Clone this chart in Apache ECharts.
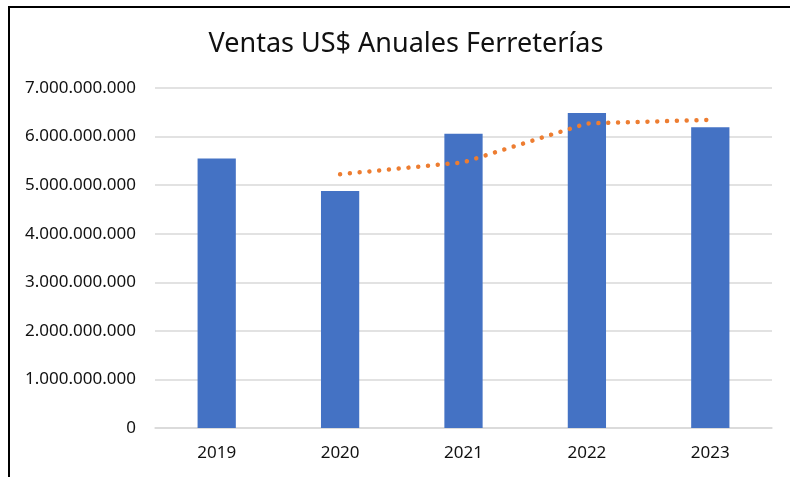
<!DOCTYPE html>
<html>
<head>
<meta charset="utf-8">
<script src="https://cdn.jsdelivr.net/npm/echarts@6/dist/echarts.min.js"></script>
<style>
  html, body { margin: 0; padding: 0; background: #fff; }
  #chart { width: 790px; height: 477px; }
</style>
</head>
<body>
<div id="chart"></div>
<script>
const years = ['2019', '2020', '2021', '2022', '2023']
const ventas = [5550000000, 4880000000, 6060000000, 6485000000, 6190000000]
// media movil de 2 periodos (linea de tendencia punteada)
const tendencia = [null, 5225000000, 5470000000, 6270000000, 6345000000]

const fmt = (v) => String(v).replace(/\B(?=(\d{3})+(?!\d))/g, '.')

const chart = echarts.init(document.getElementById('chart'), null, { renderer: 'canvas' })

const option = {
  animation: false,
  textStyle: { fontFamily: 'Noto Sans' },
  title: {
    text: 'Ventas US$ Anuales Ferreterías',
    left: 401,
    textAlign: 'center',
    top: 26,
    textStyle: { fontFamily: 'Noto Sans', fontSize: 27, fontWeight: 'normal', color: '#111' }
  },
  graphic: [
    {
      type: 'polyline',
      shape: { points: [[9, 477], [9, 7], [790, 7]] },
      style: { stroke: '#000', lineWidth: 2, fill: null }
    }
  ],
  grid: { left: 155, right: 18, top: 88, bottom: 49 },
  xAxis: {
    type: 'category',
    data: years,
    axisTick: { show: false },
    axisLine: { lineStyle: { color: '#d9d9d9', width: 1.5 } },
    axisLabel: { color: '#111', fontSize: 17, margin: 17 }
  },
  yAxis: {
    type: 'value',
    min: 0,
    max: 7000000000,
    interval: 1000000000,
    axisLine: { show: false },
    axisTick: { show: false },
    splitLine: { lineStyle: { color: '#d9d9d9', width: 1.5 } },
    axisLabel: { color: '#111', fontSize: 17, margin: 19, formatter: fmt }
  },
  series: [
    {
      name: 'Ventas',
      type: 'bar',
      data: ventas,
      barWidth: '31%',
      itemStyle: { color: '#4472C4' }
    },
    {
      name: 'Tendencia',
      type: 'line',
      data: tendencia,
      showSymbol: false,
      connectNulls: false,
      lineStyle: { color: '#ED7D31', width: 4.5, type: [0.01, 9.8], cap: 'round' }
    }
  ]
}

chart.setOption(option)
</script>
</body>
</html>
